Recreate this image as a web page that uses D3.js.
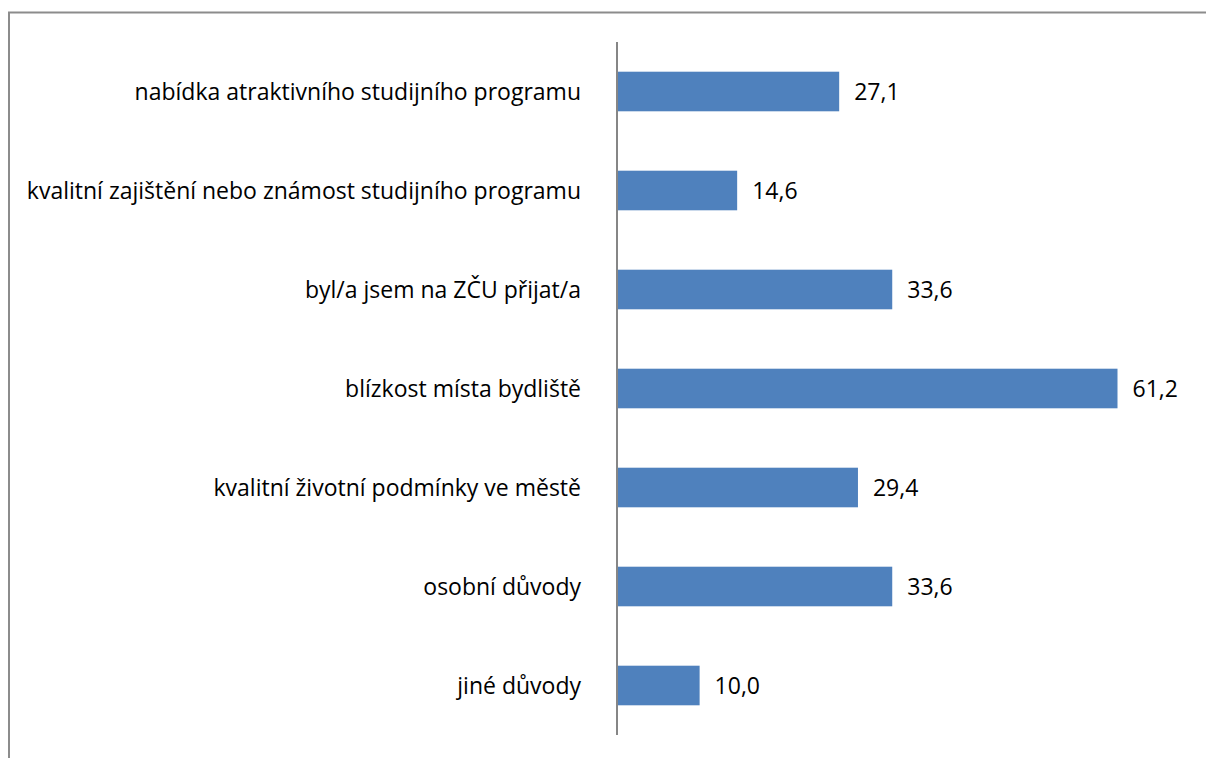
<!DOCTYPE html>
<html><head><meta charset="utf-8">
<script src="https://cdn.jsdelivr.net/npm/d3@7"></script>
<style>body{margin:0;background:#fff}svg{display:block}</style>
</head><body>
<svg id="c" width="1206" height="758"></svg>
<script>
const categories = [
  "nabídka atraktivního studijního programu",
  "kvalitní zajištění nebo známost studijního programu",
  "byl/a jsem na ZČU přijat/a",
  "blízkost místa bydliště",
  "kvalitní životní podmínky ve městě",
  "osobní důvody",
  "jiné důvody"
];
const values = [27.1, 14.6, 33.6, 61.2, 29.4, 33.6, 10.0];

const svg = d3.select("#c");
const font = "'Open Sans', sans-serif";

// outer frame
svg.append("path").attr("d","M9,758 V12.5 H1206")
  .attr("fill","none").attr("stroke","#8c8c8c").attr("stroke-width",2);

const x = d3.scaleLinear().domain([0, 61.2]).range([618, 1117.5]);
const y = d3.scaleBand().domain(categories).range([42, 735]).paddingInner(0.6).paddingOuter(0.3);

svg.selectAll("rect.bar").data(values).join("rect").attr("class","bar")
  .attr("x", x(0)).attr("y", (d,i)=>y(categories[i]))
  .attr("width", d=>x(d)-x(0)).attr("height", y.bandwidth())
  .attr("fill","#4f81bd");

svg.append("line").attr("x1",617).attr("x2",617).attr("y1",42).attr("y2",735)
  .attr("stroke","#868686").attr("stroke-width",2);

svg.selectAll("text.cat").data(categories).join("text").attr("class","cat")
  .attr("x", 581).attr("y", d=>y(d)+y.bandwidth()/2).attr("dy","0.35em")
  .attr("text-anchor","end").attr("font-family",font).attr("font-size",23).attr("fill","#000")
  .text(d=>d);

svg.selectAll("text.val").data(values).join("text").attr("class","val")
  .attr("x", d=>x(d)+15).attr("y", (d,i)=>y(categories[i])+y.bandwidth()/2).attr("dy","0.35em")
  .attr("font-family",font).attr("font-size",23).attr("fill","#000")
  .text(d=>d.toFixed(1).replace(".",","));
</script>
</body></html>
